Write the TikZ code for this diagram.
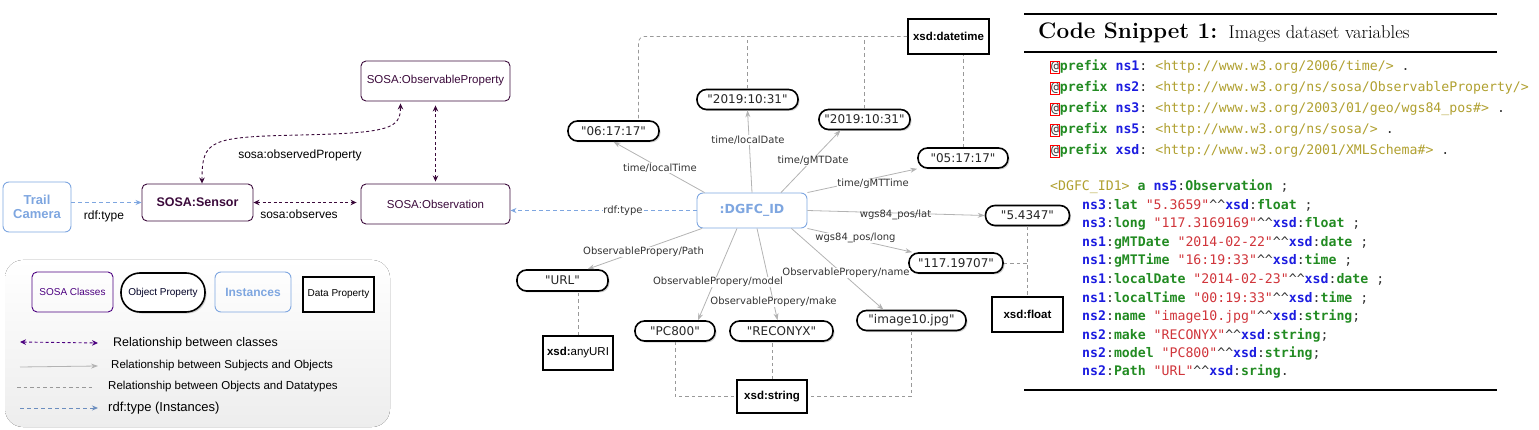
\documentclass[tikz,border=0pt]{standalone}
\usepackage{fontspec}
\setmonofont{DejaVu Sans Mono}
\newfontfamily\lsans{Liberation Sans}
\newfontfamily\dsans{DejaVu Sans}
\usetikzlibrary{arrows.meta}
\usetikzlibrary{shadows}

\definecolor{clsc}{HTML}{3B0A3B}
\definecolor{legpurple}{HTML}{4C0080}
\definecolor{instc}{HTML}{7EA6E0}
\definecolor{typlegc}{HTML}{6C8EBF}
\definecolor{subjc}{HTML}{B3B3B3}
\definecolor{dtc}{HTML}{999999}
\definecolor{kwgreen}{HTML}{228B22}
\definecolor{nsblue}{HTML}{1C1CE0}
\definecolor{strred}{HTML}{D0343A}
\definecolor{uriolive}{HTML}{B0A030}

\newcommand{\cdat}{{\setlength{\fboxsep}{0.3pt}\setlength{\fboxrule}{0.6pt}\textcolor{red}{\fbox{\textcolor{darkgray}{@}}}}}
\newcommand{\cdkw}[1]{\textcolor{kwgreen}{\bfseries #1}}
\newcommand{\cdns}[1]{\textcolor{nsblue}{\bfseries #1}}
\newcommand{\cdstr}[1]{\textcolor{strred}{#1}}
\newcommand{\cduri}[1]{\textcolor{uriolive}{#1}}
\newcommand{\cdcar}{\textasciicircum\textasciicircum}

\tikzset{
  cls/.style={draw=clsc, line width=0.9pt, rounded corners=5pt, text=clsc, font=\lsans\fontsize{11.5}{14}\selectfont},
  inst/.style={draw=instc, line width=0.9pt, rounded corners=6pt, text=instc, align=center, font=\lsans\bfseries\fontsize{13}{14}\selectfont},
  val/.style={draw, line width=1.6pt, rounded corners=9.5pt, fill=white, inner sep=1pt, minimum height=20pt, text=black!85,
    drop shadow={opacity=0.35, shadow xshift=1.5pt, shadow yshift=-1.5pt}, font=\dsans\fontsize{12}{14}\selectfont},
  dtype/.style={draw, line width=1.6pt, fill=white, inner sep=1pt, font=\lsans\bfseries\fontsize{11.5}{14}\selectfont},
  rel/.style={draw=clsc, line width=0.9pt, dash pattern=on 3pt off 2.5pt, arrows={Stealth[length=6pt,width=5.5pt]-Stealth[length=6pt,width=5.5pt]}},
  subj/.style={draw=subjc, line width=0.8pt, arrows={-Stealth[length=7pt,width=5pt]}},
  dt/.style={draw=dtc, line width=0.7pt, dash pattern=on 3.5pt off 3pt},
  typ/.style={draw=instc, line width=0.9pt, dash pattern=on 4pt off 3pt, arrows={-Stealth[length=6pt,width=5pt]}},
  lbl/.style={inner sep=1pt, font=\lsans\fontsize{12}{14}\selectfont},
  elbl/.style={inner sep=0.5pt, fill=white, text=black!80, font=\dsans\fontsize{10}{12}\selectfont},
  code/.style={anchor=base west, inner sep=0pt, text=black!80, font=\ttfamily\fontsize{13.2}{16}\selectfont}
}

\begin{document}
\begin{tikzpicture}[x=1pt, y=-1pt]
  \useasboundingbox (0,0) rectangle (1539,430);

  % classes and the camera
  \node[inst, minimum width=68pt, minimum height=50pt] (cam) at (37,207) {Trail\\Camera};
  \node[cls, font=\lsans\bfseries\fontsize{12.5}{14}\selectfont, minimum width=111pt, minimum height=37pt] (sen) at (197.5,202.5) {SOSA:Sensor};
  \node[cls, minimum width=149pt, minimum height=40pt] (obs) at (435.5,204) {SOSA:Observation};
  \node[cls, minimum width=149pt, minimum height=40pt] (obp) at (435.5,81) {SOSA:ObservableProperty};

  \draw[typ] (cam.east |- sen.west) -- (sen.west);
  \draw[rel, shorten >=4pt] (sen.east) -- (sen.east -| obs.west);
  \draw[rel, shorten <=2pt, shorten >=4pt] (obs.north) -- (obp.south);
  \draw[rel, shorten >=2pt] ([xshift=4.5pt]sen.north) .. controls +(0,-44) and (210,137) .. (300,135)
    .. controls (390,133) and +(0,27) .. ([xshift=-35pt]obp.south);
  \node[lbl] (lTypeL) at (104,216) {rdf:type};
  \node[lbl] (lObserves) at (299,214) {sosa:observes};
  \node[lbl] (lObsProp) at (300,155) {sosa:observedProperty};

  % legend
  \fill[top color=white, bottom color=black!7, rounded corners=18pt] (5,260) rectangle (390,427);
  \node[cls, draw=legpurple, text=legpurple, font=\lsans\fontsize{10}{12}\selectfont, minimum width=81pt, minimum height=40pt] (kCls) at (72.5,292) {SOSA Classes};
  \node[val, rounded corners=19pt, text=black!85!blue, font=\lsans\fontsize{10}{12}\selectfont, minimum width=84pt, minimum height=39pt] (kObj) at (163,292.5) {Object Property};
  \node[inst, font=\lsans\bfseries\fontsize{12}{14}\selectfont, minimum width=76pt, minimum height=40pt] (kInst) at (253,292) {Instances};
  \node[dtype, font=\lsans\fontsize{10}{12}\selectfont, minimum width=71pt, minimum height=35pt] (kDat) at (338.5,294.5) {Data Property};

  \node[lbl, anchor=west, font=\lsans\fontsize{12.5}{14}\selectfont] (lk1) at (112,343) {Relationship between classes};
  \node[lbl, anchor=west, font=\lsans\fontsize{11.5}{14}\selectfont] (lk2) at (110,366) {Relationship between Subjects and Objects};
  \node[lbl, anchor=west, font=\lsans\fontsize{11.5}{14}\selectfont] (lk3) at (107,387) {Relationship between Objects and Datatypes};
  \node[lbl, anchor=west, font=\lsans\fontsize{13}{14}\selectfont] (lk4) at (107,408) {rdf:type (Instances)};
  \coordinate (k1) at (20,342);
  \coordinate (k2) at (20,367);
  \coordinate (k3) at (17,387);
  \coordinate (k4) at (20,408);
  \draw[rel, draw=legpurple] (k1) -- ([xshift=-14pt]lk1.west);
  \draw[subj] (k2) -- ([xshift=-12pt]lk2.west);
  \draw[dt] (k3) -- ([xshift=-15pt]lk3.west);
  \draw[typ, draw=typlegc] (k4) -- ([xshift=-9pt]lk4.west);

  % the observation and its values
  \node[inst, font=\dsans\bfseries\fontsize{12.5}{14}\selectfont, minimum width=110pt, minimum height=35pt] (dgfc) at (752,210.5) {:DGFC\_ID};
  \node[val, minimum width=91pt] (t1) at (613.5,131) {"06:17:17"};
  \node[val, minimum width=101pt] (d1) at (747.5,99.5) {"2019:10:31"};
  \node[val, minimum width=91pt] (d2) at (864.5,119.5) {"2019:10:31"};
  \node[val, minimum width=90pt] (t2) at (963,158) {"05:17:17"};
  \node[val, minimum width=84pt] (lat) at (1027.5,215.5) {"5.4347"};
  \node[val, minimum width=94pt] (lng) at (956,263) {"117.19707"};
  \node[val, minimum width=91pt, minimum height=21pt] (url) at (562.5,280.5) {"URL"};
  \node[val, minimum width=80pt] (pc) at (675,331) {"PC800"};
  \node[val, minimum width=103pt] (rec) at (781.5,331) {"RECONYX"};
  \node[val, minimum width=109pt] (img) at (911.5,320.5) {"image10.jpg"};

  \node[dtype, minimum width=81pt, minimum height=35pt] (dtm) at (948.5,36.5) {xsd:datetime};
  \node[dtype, minimum width=70pt, minimum height=34pt] (uri) at (578,353) {xsd:\textmd{anyURI}};
  \node[dtype, minimum width=70pt, minimum height=33pt] (str) at (772,396.5) {xsd:string};
  \node[dtype, minimum width=71pt, minimum height=35pt] (flt) at (1027.5,314.5) {xsd:float};

  \draw[dt, rounded corners=6pt] (dtm.west) -| ([xshift=25pt]t1.north);
  \draw[dt] (d1.north) -- (d1.north |- dtm.west);
  \draw[dt] (d2.north) -- (d2.north |- dtm.west);
  \draw[dt] (t2.north) -- (t2.north |- dtm.south);
  \draw[dt] (uri.north) -- (uri.north |- url.south);
  \draw[dt] (pc.south) |- (str.west);
  \draw[dt] (str.north) -- (str.north |- rec.south);
  \draw[dt] (img.south) |- (str.east);
  \draw[dt] (lat.south) -- (flt.north);
  \draw[dt] (lng.east) -- (lng.east -| flt.north);

  \draw[subj] ([xshift=8pt]dgfc.north west) -- (t1.south);
  \draw[subj] (dgfc.north) -- (d1.south);
  \draw[subj] ([xshift=29pt]dgfc.north) -- ([xshift=-24pt]d2.south);
  \draw[subj] (dgfc.north east) -- (t2.south west);
  \draw[subj] (dgfc.east) -- (lat.west);
  \draw[subj] (dgfc.south east) -- ([xshift=4pt]lng.north west);
  \draw[subj] ([xshift=-50pt]dgfc.south) -- ([xshift=25pt]url.north);
  \draw[subj] ([xshift=-15pt]dgfc.south) -- ([xshift=23pt]pc.north);
  \draw[subj] ([xshift=5pt]dgfc.south) -- ([xshift=-4pt]rec.north);
  \draw[subj] ([xshift=-16pt]dgfc.south east) -- ([xshift=-28pt]img.north);
  \draw[typ] (dgfc.west) -- (dgfc.west -| obs.east);

  \node[elbl] (lLocTime) at (660,168) {time/localTime};
  \node[elbl] (lLocDate) at (748,140) {time/localDate};
  \node[elbl] (lGmtDate) at (813,161) {time/gMTDate};
  \node[elbl] (lGmtTime) at (873,184) {time/gMTTime};
  \node[elbl, fill=none] (lLat) at (895.5,214.5) {wgs84\_pos/lat};
  \node[elbl] (lLong) at (855.5,238) {wgs84\_pos/long};
  \node[elbl] (lPath) at (643.5,252) {ObservablePropery/Path};
  \node[elbl] (lModel) at (718,282) {ObservablePropery/model};
  \node[elbl] (lMake) at (773.5,302) {ObservablePropery/make};
  \node[elbl] (lName) at (846,273) {ObservablePropery/name};
  \node[elbl] (lType) at (623,211) {rdf:type};

  % code snippet
  \draw[line width=2pt] (1024,14) -- (1497,14);
  \node[anchor=base west, inner sep=0pt] (title) at (1038,38.5) {{\fontsize{22.5}{27}\selectfont\bfseries Code Snippet 1: }{\fontsize{18.5}{22}\selectfont Images dataset variables}};
  \draw[line width=2pt] (1024,52) -- (1497,52);
  \node[code] (pfx1) at (1050,71) {\cdat\cdkw{prefix} \cdns{ns1}: \cduri{<http://www.w3.org/2006/time/>} .};
  \node[code] (pfx2) at (1050,92) {\cdat\cdkw{prefix} \cdns{ns2}: \cduri{<http://www.w3.org/ns/sosa/ObservableProperty/>}};
  \node[code] (pfx3) at (1050,113) {\cdat\cdkw{prefix} \cdns{ns3}: \cduri{<http://www.w3.org/2003/01/geo/wgs84\_pos\#>} .};
  \node[code] (pfx4) at (1050,133.5) {\cdat\cdkw{prefix} \cdns{ns5}: \cduri{<http://www.w3.org/ns/sosa/>} .};
  \node[code] (pfx5) at (1050,154.5) {\cdat\cdkw{prefix} \cdns{xsd}: \cduri{<http://www.w3.org/2001/XMLSchema\#>} .};
  \node[code] (obs0) at (1050,191) {\cduri{<DGFC\_ID1>} \cdkw{a} \cdns{ns5}:\cdkw{Observation} ;};
  \node[code] (obs1) at (1082,209.5) {\cdns{ns3}:\cdkw{lat} \cdstr{"5.3659"}\cdcar\cdns{xsd}:\cdkw{float} ;};
  \node[code] (obs2) at (1082,228) {\cdns{ns3}:\cdkw{long} \cdstr{"117.3169169"}\cdcar\cdns{xsd}:\cdkw{float} ;};
  \node[code] (obs3) at (1082,246.5) {\cdns{ns1}:\cdkw{gMTDate} \cdstr{"2014-02-22"}\cdcar\cdns{xsd}:\cdkw{date} ;};
  \node[code] (obs4) at (1082,265) {\cdns{ns1}:\cdkw{gMTTime} \cdstr{"16:19:33"}\cdcar\cdns{xsd}:\cdkw{time} ;};
  \node[code] (obs5) at (1082,283.5) {\cdns{ns1}:\cdkw{localDate} \cdstr{"2014-02-23"}\cdcar\cdns{xsd}:\cdkw{date} ;};
  \node[code] (obs6) at (1082,302) {\cdns{ns1}:\cdkw{localTime} \cdstr{"00:19:33"}\cdcar\cdns{xsd}:\cdkw{time} ;};
  \node[code] (obs7) at (1082,320.5) {\cdns{ns2}:\cdkw{name} \cdstr{"image10.jpg"}\cdcar\cdns{xsd}:\cdkw{string};};
  \node[code] (obs8) at (1082,339) {\cdns{ns2}:\cdkw{make} \cdstr{"RECONYX"}\cdcar\cdns{xsd}:\cdkw{string};};
  \node[code] (obs9) at (1082,357) {\cdns{ns2}:\cdkw{model} \cdstr{"PC800"}\cdcar\cdns{xsd}:\cdkw{string};};
  \node[code] (obs10) at (1082,375.5) {\cdns{ns2}:\cdkw{Path} \cdstr{"URL"}\cdcar\cdns{xsd}:\cdkw{sring}.};
  \draw[line width=2pt] (1024,390) -- (1497,390);
\end{tikzpicture}
\end{document}
